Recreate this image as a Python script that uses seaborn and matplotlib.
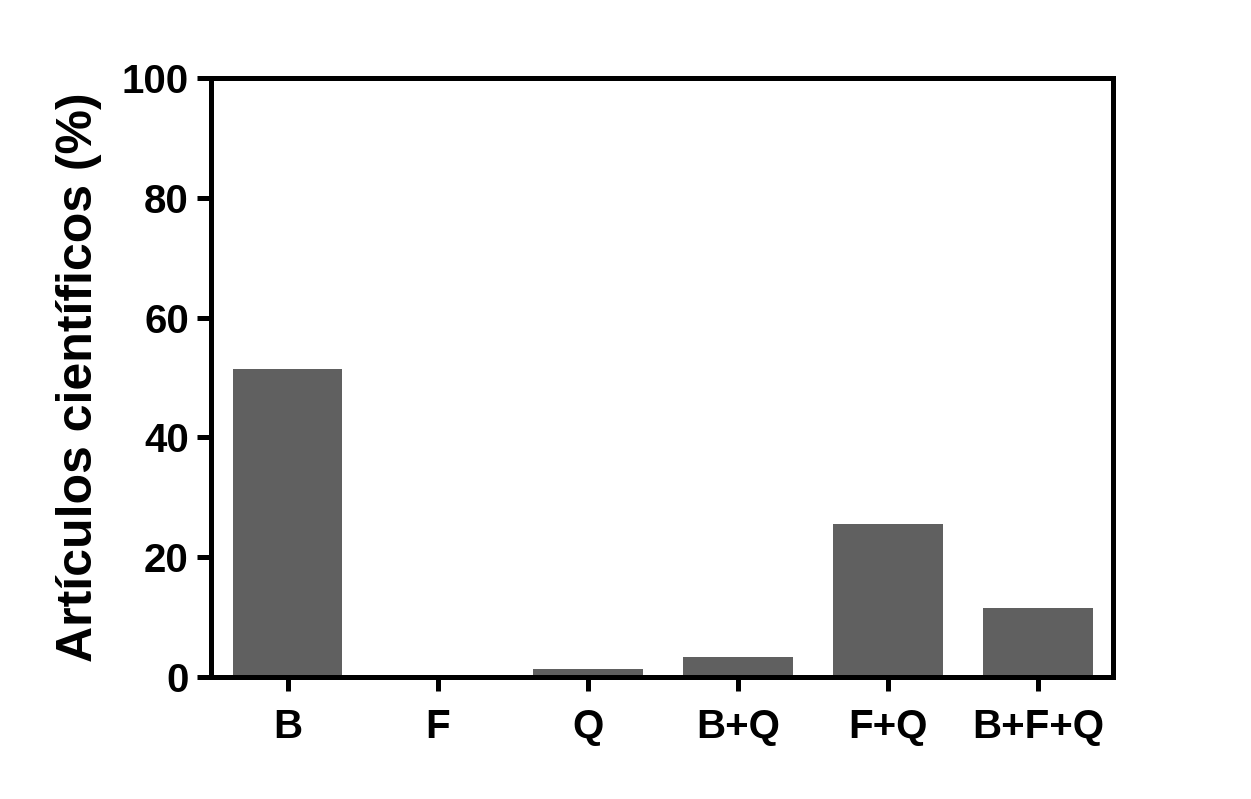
import seaborn as sns
import matplotlib.pyplot as plt
import pandas as pd

categorias = ["B", "F", "Q", "B+Q", "F+Q", "B+F+Q"]
porcentajes = [51.5, 0.0, 1.4, 3.4, 25.5, 11.5]
yticks = [0, 20, 40, 60, 80, 100]

df = pd.DataFrame({"grupo": categorias, "pct": porcentajes})

sns.set_style("ticks")
plt.rcParams['font.family'] = ['Liberation Sans', 'DejaVu Sans']
plt.rcParams['font.weight'] = 'bold'
plt.rcParams['text.color'] = 'black'
plt.rcParams['axes.labelcolor'] = 'black'
plt.rcParams['xtick.color'] = 'black'
plt.rcParams['ytick.color'] = 'black'

fig = plt.figure(figsize=(12.51, 7.99), dpi=100)
ax = fig.add_axes([0.1687, 0.1527, 0.721, 0.7497])

sns.barplot(data=df, x="grupo", y="pct", color="#606060", width=0.73,
            saturation=1, ax=ax, edgecolor="none")

ax.set_xlim(-0.51, 5.5)
ax.set_ylim(0, 100)
ax.set_yticks(yticks)
ax.set_xlabel("")
ax.set_ylabel("Artículos científicos (%)", fontsize=36, fontweight="bold",
              labelpad=14, color="black")

for s in ax.spines.values():
    s.set_linewidth(3.6)
    s.set_color("black")
    s.set_visible(True)

ax.tick_params(axis="both", width=3.6, length=10, labelsize=29,
               color="black", labelcolor="black")
ax.tick_params(axis="x", pad=12)
ax.tick_params(axis="y", pad=6)
for lab in ax.get_xticklabels() + ax.get_yticklabels():
    lab.set_fontweight("bold")

fig.savefig("out.png", dpi=100)
